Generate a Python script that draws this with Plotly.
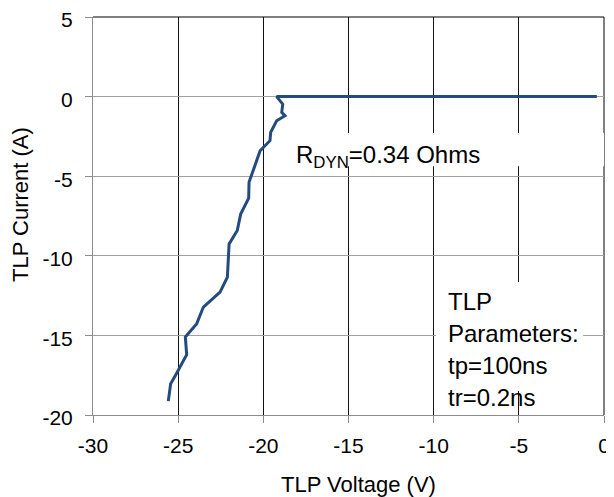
import plotly.graph_objects as go

# Data
voltage = [-25.58, -25.44, -25.13, -24.50, -24.58, -23.91, -23.52, -22.54, -22.11,
           -22.01, -21.53, -21.33, -20.86, -20.84, -20.19, -19.80, -19.61, -19.57,
           -19.22, -18.73, -18.92, -18.86, -19.12, -19.22, -0.42]
current = [-19.13, -18.03, -17.46, -16.21, -15.10, -14.26, -13.22, -12.28, -11.34,
           -9.25, -8.41, -7.38, -6.38, -5.38, -3.40, -2.98, -2.77, -2.25,
           -1.52, -1.20, -0.99, -0.47, -0.16, 0.0, 0.0]

x_ticks = [-30, -25, -20, -15, -10, -5, 0]
y_ticks = [5, 0, -5, -10, -15, -20]
param_lines = ["TLP", "Parameters:", "tp=100ns", "tr=0.2ns"]
param_y = [-12.85, -14.86, -16.87, -18.88]

FONT = "Liberation Sans, Arial, sans-serif"

fig = go.Figure()
fig.add_trace(go.Scatter(x=voltage, y=current, mode="lines",
                         line=dict(color="#244a80", width=3), showlegend=False))

# page body has an 8px default margin, so the figure is sized to compensate
fig.update_layout(
    width=606, height=489,
    margin=dict(l=85, r=10, t=9, b=82, autoexpand=False),
    paper_bgcolor="white", plot_bgcolor="white",
    font=dict(family=FONT, size=21, color="black"),
    xaxis=dict(range=[-30, 0], tickvals=x_ticks, ticktext=[str(v) for v in x_ticks],
               showgrid=True, gridcolor="#111111", gridwidth=1,
               zeroline=False, showline=True, linecolor="#8c8c8c", linewidth=1,
               ticks="outside", ticklen=7, tickcolor="#8c8c8c",
               ticklabelstandoff=5, ticklabeloverflow="allow",
               tickfont=dict(family=FONT, size=21, color="black")),
    yaxis=dict(range=[-20, 5], tickvals=y_ticks, ticktext=[str(v) for v in y_ticks],
               showgrid=True, gridcolor="#a0a0a0", gridwidth=1,
               zeroline=False, showline=True, linecolor="#8c8c8c", linewidth=1,
               ticks="outside", ticklen=7, tickcolor="#8c8c8c",
               ticklabelstandoff=8, ticklabelshift=3, ticklabeloverflow="allow",
               tickfont=dict(family=FONT, size=21, color="black")),
)

shapes = [
    dict(type="line", xref="paper", yref="paper", x0=0, x1=1, y0=1, y1=1,
         line=dict(color="black", width=1), layer="below"),
    dict(type="line", xref="paper", yref="paper", x0=1, x1=1, y0=0, y1=1,
         line=dict(color="black", width=1), layer="below"),
    # white text boxes
    dict(type="rect", xref="x", yref="y", x0=-18.7, x1=0.3, y0=-4.37, y1=-2.29,
         fillcolor="white", line=dict(width=0), layer="above"),
    dict(type="rect", xref="x", yref="y", x0=-9.86, x1=-1.23, y0=-18.5, y1=-11.65,
         fillcolor="white", line=dict(width=0), layer="above"),
]
fig.update_layout(shapes=shapes)

ann = [
    dict(text="R<sub>DYN</sub>=0.34 Ohms", x=-18.2, y=-3.74, xref="x", yref="y",
         xanchor="left", yanchor="middle", showarrow=False,
         font=dict(family=FONT, size=24, color="black")),
    dict(text="TLP Current (A)", x=-0.1429, y=0.530, xref="paper", yref="paper",
         textangle=-90, xanchor="center", yanchor="middle", showarrow=False,
         font=dict(family=FONT, size=22, color="black")),
    dict(text="TLP Voltage (V)", x=0.5186, y=-0.1734, xref="paper", yref="paper",
         xanchor="center", yanchor="middle", showarrow=False,
         font=dict(family=FONT, size=22, color="black")),
]
for t, yv in zip(param_lines, param_y):
    ann.append(dict(text=t, x=-9.3, y=yv, xref="x", yref="y", xanchor="left",
                    yanchor="middle", showarrow=False,
                    font=dict(family=FONT, size=24, color="black")))
fig.update_layout(annotations=ann)

fig.write_html("out.html")
